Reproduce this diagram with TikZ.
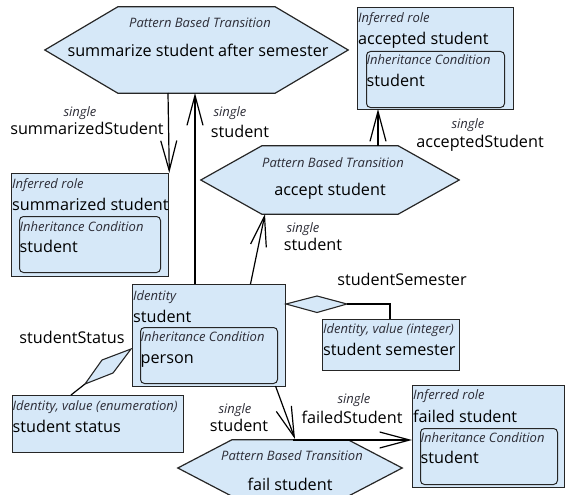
\documentclass[tikz,border=0pt]{standalone}
\usepackage{fontspec}
\setmainfont{Open Sans}
\usetikzlibrary{arrows.meta,calc}
\definecolor{bluefill}{RGB}{214,232,248}
\definecolor{lbl}{RGB}{45,45,55}
\tikzset{
  box/.style={draw=black!85, line width=1.3pt, fill=bluefill, inner sep=0pt, anchor=north west},
  innerbox/.style={draw=black!85, line width=1pt, rounded corners=4pt, fill=bluefill, inner sep=0pt, anchor=north west},
  hexnode/.style={inner sep=0pt},
  hexline/.style={draw=black!85, line width=1.2pt, fill=bluefill},
  smalltxt/.style={font=\fontsize{13}{15}\selectfont\itshape, text=lbl, inner sep=0pt, anchor=base west},
  bigtxt/.style={font=\fontsize{16.2}{19}\selectfont, inner sep=0pt, anchor=base west},
  smallc/.style={smalltxt, anchor=base},
  bigc/.style={bigtxt, anchor=base},
  conn/.style={draw=black, line width=1.2pt},
  oarrow/.style={conn, -{Straight Barb[length=30pt,width=16pt]}},
}
\newcommand{\hexpath}[2]{%
  \path[hexline] (#1.west) -- ([xshift=#2]#1.north west) -- ([xshift=-#2]#1.north east) -- (#1.east)
    -- ([xshift=-#2]#1.south east) -- ([xshift=#2]#1.south west) -- cycle;}
\begin{document}
\begin{tikzpicture}[x=1pt,y=-1pt]
\useasboundingbox (0,0) rectangle (565,495);
\clip (0,0) rectangle (565,495);
% hexagons
\node[hexnode, minimum width=303pt, minimum height=86pt] (h1) at (196.5,50) {};
\hexpath{h1}{73pt}
\node[smallc] (h1a) at (200,28) {Pattern Based Transition};
\node[bigc] (h1b) at (198,57) {summarize student after semester};

\node[hexnode, minimum width=258pt, minimum height=68pt] (h2) at (330,180) {};
\hexpath{h2}{61pt}
\node[smallc] (h2a) at (333,167) {Pattern Based Transition};
\node[bigc] (h2b) at (330,195) {accept student};

\node[hexnode, minimum width=224pt, minimum height=56pt] (h3) at (290,468) {};
\hexpath{h3}{54pt}
\node[smallc] (h3a) at (292,460) {Pattern Based Transition};
\node[bigc] (h3b) at (290,490) {fail student};

% accepted student
\node[box, minimum width=156pt, minimum height=102pt] (acc) at (357,7) {};
\node[smalltxt] (acc1) at (358,22.7) {Inferred role};
\node[bigtxt] (acc2) at (358,45) {accepted student};
\node[innerbox, minimum width=138pt, minimum height=56pt] (acci) at (366,51) {};
\node[smalltxt] (acc3) at (366.5,65) {Inheritance Condition};
\node[bigtxt] (acc4) at (366.5,86) {student};

% summarized student
\node[box, minimum width=157pt, minimum height=103pt] (sum) at (11,173) {};
\node[smalltxt] (sum1) at (12,188) {Inferred role};
\node[bigtxt] (sum2) at (12,210) {summarized student};
\node[innerbox, minimum width=141pt, minimum height=56pt] (sumi) at (19,216) {};
\node[smalltxt] (sum3) at (19.5,231) {Inheritance Condition};
\node[bigtxt] (sum4) at (19.5,252) {student};

% identity student
\node[box, minimum width=153pt, minimum height=102pt] (ids) at (132,284) {};
\node[smalltxt] (ids1) at (133,300) {Identity};
\node[bigtxt] (ids2) at (133,322) {student};
\node[innerbox, minimum width=137pt, minimum height=56pt] (idsi) at (140,327) {};
\node[smalltxt] (ids3) at (140.5,341) {Inheritance Condition};
\node[bigtxt] (ids4) at (140.5,363) {person};

% student semester
\node[box, minimum width=137pt, minimum height=51pt] (sem) at (322,319) {};
\node[smalltxt] (sem1) at (323,333) {Identity, value (integer)};
\node[bigtxt] (sem2) at (323,355) {student semester};

% student status
\node[box, minimum width=171pt, minimum height=57pt] (sts) at (12,395) {};
\node[smalltxt] (sts1) at (12.5,410) {Identity, value (enumeration)};
\node[bigtxt] (sts2) at (12.5,432) {student status};

% failed student
\node[box, minimum width=152pt, minimum height=102pt] (fld) at (412,385) {};
\node[smalltxt] (fld1) at (413,399) {Inferred role};
\node[bigtxt] (fld2) at (413,422) {failed student};
\node[innerbox, minimum width=137pt, minimum height=56pt] (fldi) at (420,428) {};
\node[smalltxt] (fld3) at (420.5,442) {Inheritance Condition};
\node[bigtxt] (fld4) at (420.5,463) {student};

% connectors
\coordinate (c1s) at (168,93);
\draw[oarrow] (c1s) -- (sum.north east);
\node[smallc] (l1a) at (80,117) {single};
\node[bigc] (l1b) at (87,134) {summarizedStudent};

\coordinate (c2s) at (195,284);
\coordinate (c2e) at (195,93);
\draw[oarrow] (c2s) -- (c2e);
\node[smallc] (l2a) at (230,117) {single};
\node[bigc] (l2b) at (240,137) {student};

\coordinate (c3s) at (250.5,284);
\coordinate (c3e) at (265,214);
\draw[oarrow] (c3s) -- (c3e);
\node[smallc] (l3a) at (303,232) {single};
\node[bigc] (l3b) at (313,250) {student};

\coordinate (c4s) at (378,145.7);
\coordinate (c4e) at (378,109);
\draw[oarrow] (c4s) -- (c4e);
\node[smallc] (l4a) at (468,128) {single};
\node[bigc] (l4b) at (480,147) {acceptedStudent};

\coordinate (c5s) at (275.5,386);
\coordinate (c5e) at (295,439);
\draw[oarrow] (c5s) -- (c5e);
\node[smallc] (l5a) at (235,413) {single};
\node[bigc] (l5b) at (239,431) {student};

\coordinate (c6s) at (293,440);
\coordinate (c6e) at (412,440);
\draw[oarrow] (c6s) -- (c6e);
\node[smallc] (l6a) at (354,403) {single};
\node[bigc] (l6b) at (352,423) {failedStudent};

% semester diamond
\coordinate (d1a) at (286,304);
\coordinate (d1b) at (317,296);
\coordinate (d1c) at (347,304);
\coordinate (d1d) at (317,312.5);
\path[hexline, line width=1.1pt] (d1a) -- (d1b) -- (d1c) -- (d1d) -- cycle;
\coordinate (d1t) at (390,319);
\draw[conn] (d1c) -- (d1c -| d1t) -- (d1t);
\node[bigc] (l7) at (402,285) {studentSemester};

% status diamond
\coordinate (d2a) at (131,349);
\coordinate (d2b) at (102,360);
\coordinate (d2c) at (85,384);
\coordinate (d2d) at (113,373);
\path[hexline, line width=1.1pt] (d2a) -- (d2b) -- (d2c) -- (d2d) -- cycle;
\coordinate (d2t) at (71,395);
\draw[conn] (d2c) -- (d2t);
\node[bigc] (l8) at (72,343) {studentStatus};
\end{tikzpicture}
\end{document}
